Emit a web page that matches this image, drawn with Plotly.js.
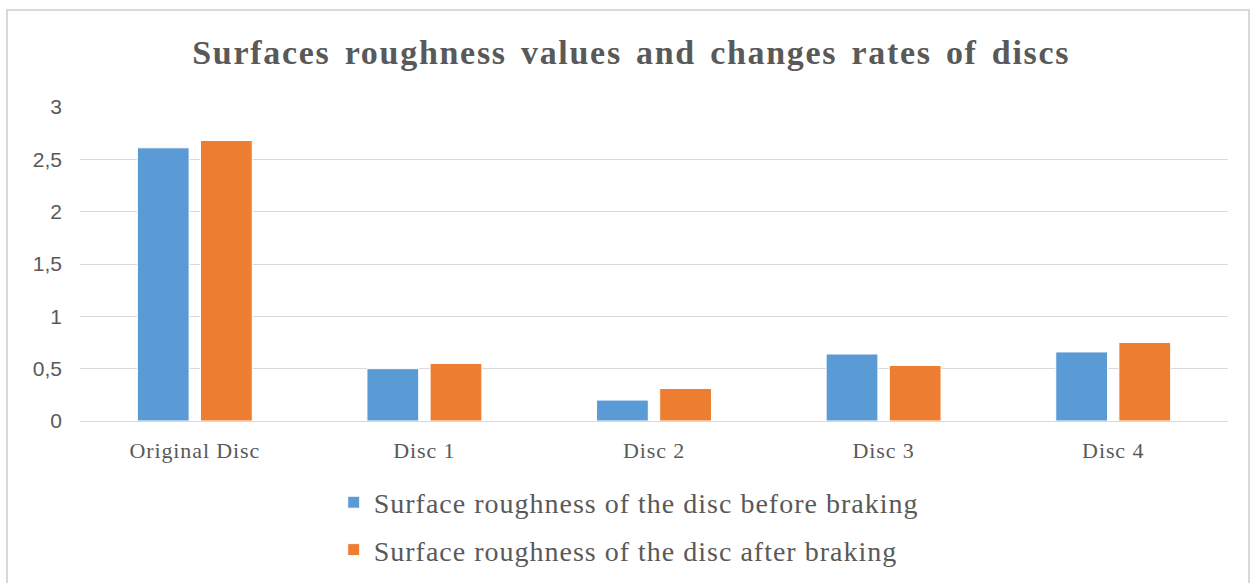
<!DOCTYPE html>
<html>
<head>
<meta charset="utf-8">
<script src="https://cdn.plot.ly/plotly-3.0.1.min.js"></script>
<style>
html,body{margin:0;padding:0;background:#fff;}
#chart{width:1255px;height:583px;}
#frame{position:absolute;left:6px;top:9px;width:1244px;height:590px;border:2px solid #d9d9d9;pointer-events:none;box-sizing:border-box;}
.gtitle{letter-spacing:1.7px;word-spacing:4px;}
.xtick text{letter-spacing:0.9px;}
.legendtext{letter-spacing:1px;}
</style>
</head>
<body>
<div id="chart"></div>
<div id="frame"></div>
<script>
const categories = ["Original Disc", "Disc 1", "Disc 2", "Disc 3", "Disc 4"];
const beforeBraking = [2.61, 0.50, 0.20, 0.64, 0.66];
const afterBraking = [2.68, 0.55, 0.31, 0.53, 0.75];
const seriesNames = ["Surface roughness of the disc before braking", "Surface roughness of the disc after braking"];
const yTickVals = [0, 0.5, 1, 1.5, 2, 2.5, 3];
const yTickText = ["0", "0,5", "1", "1,5", "2", "2,5", "3"];

const traces = [
  {type: "bar", x: categories, y: beforeBraking, name: seriesNames[0], legendgroup: "a",
   marker: {color: "#5b9bd5", line: {color: "#ffffff", width: 1}}},
  {type: "bar", x: categories, y: afterBraking, name: seriesNames[1], legendgroup: "b",
   marker: {color: "#ed7d31", line: {color: "#ffffff", width: 1}}}
];

const layout = {
  width: 1255, height: 583,
  margin: {l: 80, r: 27, t: 107, b: 162, autoexpand: false},
  paper_bgcolor: "#ffffff", plot_bgcolor: "#ffffff",
  separators: ", ",
  title: {text: "<b>Surfaces roughness values and changes rates of discs</b>",
    font: {family: "Liberation Serif, serif", size: 34, color: "#595959"},
    x: 0.503, xanchor: "center", y: 0.91, yanchor: "middle"},
  barmode: "group", bargap: 0.45, bargroupgap: 0.18,
  xaxis: {type: "category", showgrid: false, showline: false, ticks: "", ticklabelstandoff: 14,
    tickfont: {family: "Liberation Serif, serif", size: 22, color: "#595959"}},
  yaxis: {range: [0, 3], tickvals: yTickVals, ticktext: yTickText,
    showgrid: true, gridcolor: "#d9d9d9", gridwidth: 1,
    zeroline: true, zerolinecolor: "#d9d9d9", zerolinewidth: 1,
    showline: false, ticks: "", ticklabelstandoff: 17,
    tickfont: {family: "Liberation Sans, sans-serif", size: 21, color: "#595959"}},
  showlegend: true,
  legend: {orientation: "v", x: 0.221, xanchor: "left", y: -0.18, yanchor: "top",
    font: {family: "Liberation Serif, serif", size: 28, color: "#595959"},
    tracegroupgap: 8, itemwidth: 30, traceorder: "grouped"}
};

Plotly.newPlot("chart", traces, layout, {displayModeBar: false, staticPlot: true});
</script>
</body>
</html>
